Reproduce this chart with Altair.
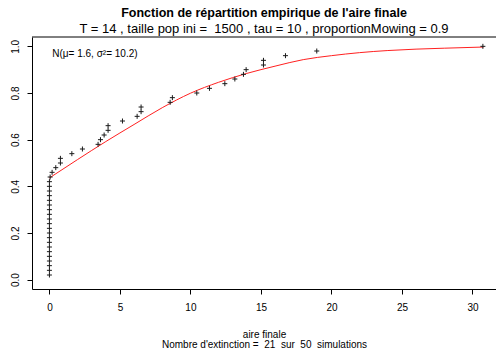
import altair as alt
import pandas as pd

# Empirical CDF points (final area, cumulative proportion)
aire = [0, 0, 0, 0, 0, 0, 0, 0, 0, 0, 0, 0, 0, 0, 0, 0, 0, 0, 0, 0, 0,
        0.05, 0.19, 0.45, 0.78, 0.78, 1.59, 2.34, 3.45, 3.62, 3.88, 4.16, 4.16,
        5.18, 6.22, 6.5, 6.5, 8.56, 8.72, 10.45, 11.35, 12.44, 13.15, 13.76,
        13.95, 15.18, 15.18, 16.74, 18.96, 30.74]
prop = [0.02, 0.04, 0.06, 0.08, 0.10, 0.12, 0.14, 0.16, 0.18, 0.20, 0.22,
        0.24, 0.26, 0.28, 0.30, 0.32, 0.34, 0.36, 0.38, 0.40, 0.42,
        0.44, 0.46, 0.48, 0.50, 0.52, 0.54, 0.56, 0.58, 0.60, 0.62, 0.64,
        0.66, 0.68, 0.70, 0.72, 0.74, 0.76, 0.78, 0.80, 0.82, 0.84, 0.86,
        0.88, 0.90, 0.92, 0.94, 0.96, 0.98, 1.00]

# Fitted curve
courbe_x = [0, 2, 4, 6, 8, 10, 12, 14, 16, 18, 20, 22, 24, 26, 28, 30.78]
courbe_y = [0.436, 0.515, 0.592, 0.665, 0.737, 0.799, 0.846, 0.884, 0.915,
            0.943, 0.960, 0.973, 0.982, 0.988, 0.992, 0.997]

x_ticks = [0, 5, 10, 15, 20, 25, 30]
y_ticks = [0.0, 0.2, 0.4, 0.6, 0.8, 1.0]

legend_text = ["N(\u03bc= 1.6, \u03c3\u00b2= 10.2)"]
legend_x = [0.2]
legend_y = [0.966]

NB = "\u00a0"
FONT = "Liberation Sans"
W, H = 464, 252

pts = pd.DataFrame({"aire": aire, "prop": prop})
crv = pd.DataFrame({"aire": courbe_x, "prop": courbe_y})
leg = pd.DataFrame({"aire": legend_x, "prop": legend_y, "txt": legend_text})
one = pd.DataFrame({"a": [0]})

xscale = alt.Scale(domain=[-1.236, 31.67], nice=False, zero=False)
yscale = alt.Scale(domain=[-0.04, 1.04], nice=False, zero=False)

xaxis = alt.Axis(values=x_ticks, grid=False, domainColor="black", tickColor="black",
                 tickSize=5, labelFontSize=10, labelFont=FONT, labelColor="black",
                 labelPadding=8, labelFlush=False,
                 title=["aire finale",
                        f"Nombre d'extinction ={NB} 21 {NB}sur {NB}50 {NB}simulations"],
                 titleFont=FONT, titleFontSize=10, titleFontWeight="normal",
                 titleColor="black", titlePadding=17, titleLineHeight=10)
yaxis = alt.Axis(values=y_ticks, format=".1f", grid=False, domainColor="black",
                 tickColor="black", tickSize=5, labelFontSize=10, labelFont=FONT,
                 labelColor="black", labelAngle=270, labelAlign="center",
                 labelBaseline="bottom", labelPadding=7, labelFlush=False, title=None)

points = alt.Chart(pts).mark_point(
    shape="M-1,0L1,0M0,-1L0,1", filled=False, size=25, strokeWidth=1,
    color="#1a1a1a", opacity=1
).encode(
    x=alt.X("aire:Q", scale=xscale, axis=xaxis),
    y=alt.Y("prop:Q", scale=yscale, axis=yaxis),
)

line = alt.Chart(crv).mark_line(color="#ff2020", strokeWidth=1, interpolate="monotone").encode(
    x=alt.X("aire:Q", scale=xscale),
    y=alt.Y("prop:Q", scale=yscale),
)

label = alt.Chart(leg).mark_text(align="left", baseline="middle", fontSize=10,
                                 font=FONT, color="black").encode(
    x=alt.X("aire:Q", scale=xscale),
    y=alt.Y("prop:Q", scale=yscale),
    text="txt:N",
)

top = alt.Chart(one).mark_rule(color="black", strokeWidth=1).encode(
    x=alt.value(0), x2=alt.value(W), y=alt.value(0)
)

chart = alt.layer(line, points, label, top).properties(
    width=W, height=H,
    title=alt.TitleParams(
        text="Fonction de r\u00e9partition empirique de l'aire finale",
        subtitle=f"T = 14 , taille pop ini ={NB} 1500 , tau = 10 , proportionMowing = 0.9",
        font=FONT, fontSize=12.5, fontWeight="bold", color="black",
        subtitleFont=FONT, subtitleFontSize=13, subtitleColor="black",
        subtitlePadding=3, offset=1, anchor="middle",
    ),
    autosize=alt.AutoSizeParams(type="none"),
    padding={"left": 32, "top": 37, "right": 0, "bottom": 62},
    background="white",
).configure_view(stroke=None)

chart.save("out.html", embed_options={"renderer": "svg", "actions": False})
